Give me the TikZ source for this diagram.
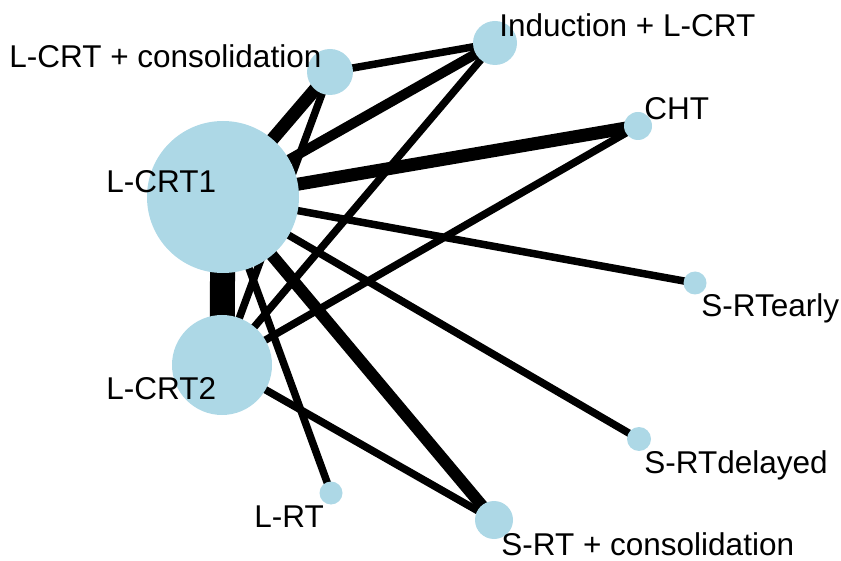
\documentclass[tikz,border=0pt]{standalone}
\usepackage{fontspec}
\setmainfont{Liberation Sans}
\usetikzlibrary{positioning}
\definecolor{lightblue}{RGB}{173,216,230}
\pgfdeclarelayer{background}
\pgfsetlayers{background,main}

\begin{document}
\begin{tikzpicture}[x=0.5pt, y=-0.5pt,
        trt/.style={circle, fill=lightblue, inner sep=0pt, minimum size=#1},
        lab/.style={anchor=base west, inner sep=0pt, font=\fontsize{15.75}{18}\selectfont},
        line/.style={draw, black, line width=#1}]
        \useasboundingbox (0,0) rectangle (841,561);
        \node [trt=76pt] (crt1) at (223,197) {};
        \node [trt=50pt] (crt2) at (222,365) {};
        \node [trt=23pt] (cons) at (330,72) {};
        \node [trt=22pt] (ind) at (495,43) {};
        \node [trt=14pt] (cht) at (638,126) {};
        \node [trt=11.5pt] (early) at (695,283) {};
        \node [trt=12pt] (delayed) at (639,439) {};
        \node [trt=11.5pt] (lrt) at (331,493) {};
        \node [trt=19pt] (srtcons) at (494,520) {};

        \node [lab] (conslab) at (9,68) {L-CRT + consolidation};
        \node [lab] (crt1lab) at (106,193) {L-CRT1};
        \node [lab] (indlab) at (499,37) {Induction + L-CRT};
        \node [lab] (chtlab) at (644,120) {CHT};
        \node [lab] (earlylab) at (701,317) {S-RTearly};
        \node [lab] (crt2lab) at (106,400) {L-CRT2};
        \node [lab] (delayedlab) at (644,473) {S-RTdelayed};
        \node [lab] (lrtlab) at (254,527) {L-RT};
        \node [lab] (srtconslab) at (501,555) {S-RT + consolidation};

        % edges go under the circles
        \begin{pgfonlayer}{background}
        \path [line=12.5pt] (crt1.center) -- (crt2.center);
        \path [line=6.5pt] (crt1.center) -- (cons.center);
        \path [line=5pt] (crt1.center) -- (ind.center);
        \path [line=6.5pt] (crt1.center) -- (cht.center);
        \path [line=3.75pt] (crt1.center) -- (early.center);
        \path [line=3.75pt] (crt1.center) -- (delayed.center);
        \path [line=6pt] (crt1.center) -- (srtcons.center);
        \path [line=3.75pt] (crt1.center) -- (lrt.center);
        \path [line=3.75pt] (cons.center) -- (ind.center);
        \path [line=3.75pt] (crt2.center) -- (cons.center);
        \path [line=3.75pt] (crt2.center) -- (ind.center);
        \path [line=3.75pt] (crt2.center) -- (cht.center);
        \path [line=3.75pt] (crt2.center) -- (srtcons.center);
        \end{pgfonlayer}
    \end{tikzpicture}
\end{document}
